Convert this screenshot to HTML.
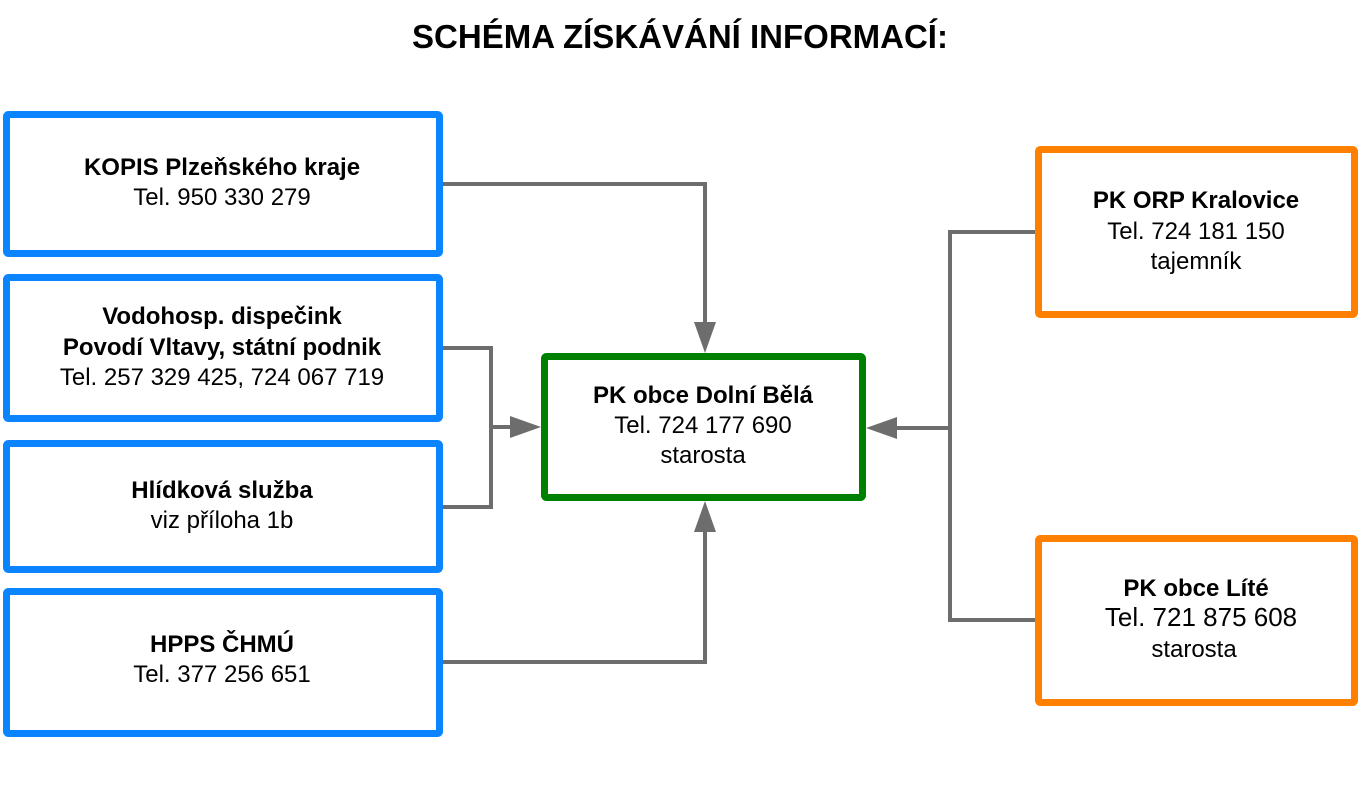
<!DOCTYPE html>
<html><head><meta charset="utf-8"><style>
html,body{margin:0;padding:0;background:#fff;}
svg{display:block;}
text{font-family:"Liberation Sans",sans-serif;font-size:24px;fill:#000;text-anchor:middle;}
.b{font-weight:bold;}
</style></head><body>
<svg width="1360" height="787" viewBox="0 0 1360 787">
<text x="680" y="48" class="b" style="font-size:33px">SCHÉMA ZÍSKÁVÁNÍ INFORMACÍ:</text>
<g fill="none" stroke="#0a84ff" stroke-width="7">
<rect x="6.5" y="114.5" width="433" height="139" rx="2"/>
<rect x="6.5" y="277.5" width="433" height="141" rx="2"/>
<rect x="6.5" y="443.5" width="433" height="126" rx="2"/>
<rect x="6.5" y="591.5" width="433" height="142" rx="2"/>
</g>
<rect x="544.5" y="356.5" width="318" height="141" rx="2" fill="none" stroke="#008000" stroke-width="7"/>
<g fill="none" stroke="#ff8000" stroke-width="7">
<rect x="1038.5" y="149.5" width="316" height="165" rx="2"/>
<rect x="1038.5" y="538.5" width="316" height="164" rx="2"/>
</g>
<g fill="none" stroke="#6d6d6d" stroke-width="4">
<polyline points="443,184 705,184 705,330"/>
<polyline points="443,662 705,662 705,525"/>
<polyline points="443,348 491,348 491,507 443,507"/>
<line x1="491" y1="427" x2="512" y2="427"/>
<polyline points="1035,232 950,232 950,620 1035,620"/>
<line x1="950" y1="428" x2="895" y2="428"/>
</g>
<g fill="#6d6d6d">
<path d="M694,322 L716,322 L705,353z"/>
<path d="M694,532 L716,532 L705,501z"/>
<path d="M510,416 L510,438 L541,427z"/>
<path d="M897,417 L897,439 L866,428z"/>
</g>
<text x="222" y="175" class="b">KOPIS Plzeňského kraje</text>
<text x="222" y="205">Tel. 950 330 279</text>
<text x="222" y="324" class="b">Vodohosp. dispečink</text>
<text x="222" y="355" class="b">Povodí Vltavy, státní podnik</text>
<text x="222" y="385">Tel. 257 329 425, 724 067 719</text>
<text x="222" y="498" class="b">Hlídková služba</text>
<text x="222" y="528">viz příloha 1b</text>
<text x="222" y="652" class="b">HPPS ČHMÚ</text>
<text x="222" y="682">Tel. 377 256 651</text>
<text x="703" y="403" class="b">PK obce Dolní Bělá</text>
<text x="703" y="433">Tel. 724 177 690</text>
<text x="703" y="463">starosta</text>
<text x="1196" y="208" class="b">PK ORP Kralovice</text>
<text x="1196" y="239">Tel. 724 181 150</text>
<text x="1196" y="269">tajemník</text>
<text x="1196" y="596" class="b">PK obce Líté</text>
<text x="1201" y="626" style="font-size:26px">Tel. 721 875 608</text>
<text x="1194" y="657">starosta</text>
</svg>
</body></html>
